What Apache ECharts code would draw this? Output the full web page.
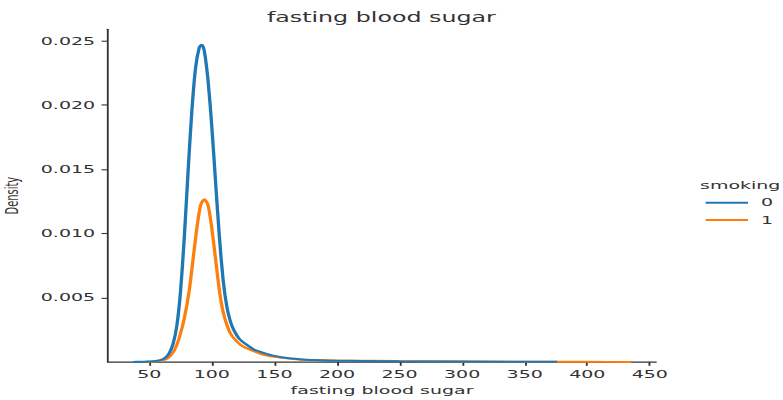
<!DOCTYPE html>
<html>
<head>
<meta charset="utf-8">
<script src="https://cdn.jsdelivr.net/npm/echarts@6/dist/echarts.min.js"></script>
<style>
  html, body { margin: 0; padding: 0; background: #fff; overflow: hidden; }
  #wrap { width: 783px; height: 400px; overflow: hidden; }
  /* the figure is laid out at its native size and stretched to the page */
  #chart { width: 425px; height: 364px; transform-origin: 0 0; transform: scale(1.8424, 1.0989); }
</style>
</head>
<body>
<div id="wrap"><div id="chart"></div></div>
<script>
// KDE of fasting blood sugar, smoking = 0
const sugar0 = [37, 45, 50, 55, 60, 63, 66, 69, 72, 75, 78, 81, 84, 87, 90, 92, 94, 97, 100, 103, 106, 109, 112, 115, 118, 122, 127, 133, 140, 150, 160, 170, 180, 190, 200, 220, 250, 300, 350, 376];
const density0 = [0, 0.00002, 0.00003, 0.00007, 0.00018, 0.00035, 0.0007, 0.0014, 0.0028, 0.0055, 0.0097, 0.0148, 0.0195, 0.0229, 0.0245, 0.0247, 0.0242, 0.0219, 0.0183, 0.0140, 0.0098, 0.0064, 0.0043, 0.0031, 0.0024, 0.0018, 0.0014, 0.0010, 0.00075, 0.00047, 0.00031, 0.00022, 0.00016, 0.00012, 0.0001, 0.00008, 0.00005, 0.00003, 0.00002, 0.00001];

// KDE of fasting blood sugar, smoking = 1
const sugar1 = [47, 55, 60, 65, 70, 74, 78, 82, 85, 88, 91, 94, 97, 100, 103, 106, 109, 112, 115, 120, 125, 132, 140, 150, 160, 170, 185, 200, 250, 300, 350, 400, 435];
const density1 = [0.00001, 0.00004, 0.0001, 0.0003, 0.0009, 0.0019, 0.0034, 0.0056, 0.0080, 0.0104, 0.0122, 0.01267, 0.0122, 0.0104, 0.0080, 0.0056, 0.0039, 0.0029, 0.0022, 0.0016, 0.0012, 0.0009, 0.0006, 0.0004, 0.00028, 0.0002, 0.00015, 0.00012, 0.00007, 0.00004, 0.00002, 0.00001, 0.000005];

const xTicks = [50, 100, 150, 200, 250, 300, 350, 400, 450];
const yTicks = [0.005, 0.010, 0.015, 0.020, 0.025];
const groups = ['0', '1'];

const FONT = 'DejaVu Sans';
const INK = '#333';

const pairs = (xs, ys) => xs.map((x, i) => [x, ys[i]]);

const chart = echarts.init(document.getElementById('chart'), null, { renderer: 'svg' });
chart.setOption({
  animation: false,
  backgroundColor: '#fff',
  title: {
    text: 'fasting blood sugar',
    left: 207,
    top: 9,
    padding: 0,
    textAlign: 'center',
    textStyle: { fontFamily: FONT, fontSize: 12.9, fontWeight: 'normal', color: INK }
  },
  graphic: [{
    type: 'text',
    left: 380,
    top: 164,
    style: { text: 'smoking', fontFamily: FONT, fontSize: 10.3, fill: INK }
  }],
  legend: {
    orient: 'vertical',
    left: 383,
    top: 179.6,
    icon: 'rect',
    itemWidth: 23,
    itemHeight: 1.8,
    itemGap: 5.6,
    padding: 0,
    data: groups,
    textStyle: { fontFamily: FONT, fontSize: 10.3, color: INK, padding: [0, 0, 0, 2] }
  },
  grid: { left: 58.6, right: 68.9, top: 26.7, bottom: 34.6, outerBoundsMode: 'none', containLabel: false },
  xAxis: {
    type: 'value',
    min: 17,
    max: 455,
    name: 'fasting blood sugar',
    nameLocation: 'middle',
    nameGap: 18,
    nameTextStyle: { fontFamily: FONT, fontSize: 10.3, color: INK },
    splitLine: { show: false },
    axisLine: { show: true, onZero: false, lineStyle: { color: INK, width: 1 } },
    axisTick: { show: true, length: 3.5, customValues: xTicks, lineStyle: { color: INK } },
    axisLabel: { customValues: xTicks, margin: 6, fontFamily: FONT, fontSize: 10.3, color: INK }
  },
  yAxis: {
    type: 'value',
    min: 0,
    max: 0.0259,
    name: 'Density',
    nameLocation: 'middle',
    nameGap: 42,
    nameTextStyle: { fontFamily: 'DejaVu Sans Condensed', fontSize: 10, color: INK },
    splitLine: { show: false },
    axisLine: { show: true, lineStyle: { color: INK, width: 1 } },
    axisTick: { show: true, length: 3.5, customValues: yTicks, lineStyle: { color: INK } },
    axisLabel: {
      customValues: yTicks,
      margin: 7,
      fontFamily: FONT,
      fontSize: 10.3,
      color: INK,
      formatter: v => v.toFixed(3)
    }
  },
  series: [
    {
      name: groups[0],
      type: 'line',
      data: pairs(sugar0, density0),
      smooth: 0.25,
      symbol: 'none',
      lineStyle: { color: '#1f77b4', width: 1.8 },
      itemStyle: { color: '#1f77b4' },
      z: 3
    },
    {
      name: groups[1],
      type: 'line',
      data: pairs(sugar1, density1),
      smooth: 0.25,
      symbol: 'none',
      lineStyle: { color: '#ff7f0e', width: 1.8 },
      itemStyle: { color: '#ff7f0e' },
      z: 2
    }
  ]
});
</script>
</body>
</html>
